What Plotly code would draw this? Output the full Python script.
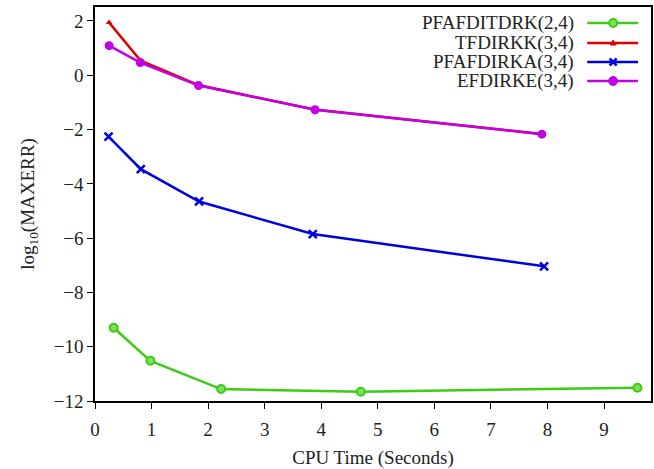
import plotly.graph_objects as go

# CPU time (s) and log10 of the maximum error for each scheme
pfafditdrk_time = [0.33, 0.98, 2.23, 4.70, 9.59]
pfafditdrk_err = [-9.30, -10.52, -11.56, -11.66, -11.51]

tfdirkk_time = [0.25, 0.80, 1.83, 3.88, 7.90]
tfdirkk_err = [1.94, 0.55, -0.36, -1.26, -2.16]

pfafdirka_time = [0.24, 0.81, 1.84, 3.85, 7.94]
pfafdirka_err = [-2.26, -3.46, -4.65, -5.85, -7.04]

efdirke_time = [0.25, 0.80, 1.83, 3.89, 7.90]
efdirke_err = [1.09, 0.47, -0.38, -1.27, -2.17]

names = ["PFAFDITDRK(2,4)", "TFDIRKK(3,4)", "PFAFDIRKA(3,4)", "EFDIRKE(3,4)"]
x_ticks = list(range(0, 10))
y_ticks = list(range(-12, 3, 2))

GREEN = "#3ccc14"
RED = "#e00000"
BLUE = "#0000e0"
MAGENTA = "#c400e4"
SERIF = "Liberation Serif, DejaVu Serif, serif"

W, H = 654, 469
ML, MR, MT, MB = 95, 1, 7, 68

fig = go.Figure()
fig.add_trace(go.Scatter(x=pfafditdrk_time, y=pfafditdrk_err, mode="lines+markers",
                         line=dict(color=GREEN, width=2.5),
                         marker=dict(symbol="circle", size=8, color="#7ee05a",
                                     line=dict(color=GREEN, width=2))))
fig.add_trace(go.Scatter(x=tfdirkk_time, y=tfdirkk_err, mode="lines+markers",
                         line=dict(color=RED, width=2.5),
                         marker=dict(symbol="triangle-up", size=6, color=RED)))
fig.add_trace(go.Scatter(x=pfafdirka_time, y=pfafdirka_err, mode="lines+markers",
                         line=dict(color=BLUE, width=2.5),
                         marker=dict(symbol="x-thin", size=8,
                                     line=dict(color=BLUE, width=2.5))))
fig.add_trace(go.Scatter(x=efdirke_time, y=efdirke_err, mode="lines+markers",
                         line=dict(color=MAGENTA, width=2.5),
                         marker=dict(symbol="circle", size=9, color=MAGENTA)))

# Legend drawn at the top right: right-aligned names, key samples to their right
pw = W - ML - MR
ph = H - MT - MB


def px_x(px):
    return (px - ML) / pw


def px_y(py):
    return (H - MB - py) / ph


shapes = []
annotations = []
rows_y = [23, 43, 62, 81]
key_colors = [GREEN, RED, BLUE, MAGENTA]
for name, py, col in zip(names, rows_y, key_colors):
    annotations.append(dict(x=px_x(578), y=px_y(py), xref="paper", yref="paper",
                            text=name, showarrow=False, xanchor="right", yanchor="middle",
                            font=dict(family=SERIF, size=19, color="#222")))
    shapes.append(dict(type="line", xref="paper", yref="paper",
                       x0=px_x(589), x1=px_x(640), y0=px_y(py), y1=px_y(py),
                       line=dict(color=col, width=2.5)))

cx = 615
# green key marker
shapes.append(dict(type="circle", xref="paper", yref="paper",
                   x0=px_x(cx - 4), x1=px_x(cx + 4), y0=px_y(rows_y[0] + 4), y1=px_y(rows_y[0] - 4),
                   fillcolor="#7ee05a", line=dict(color=GREEN, width=2)))
# red key marker
ry = rows_y[1]
shapes.append(dict(type="path", xref="paper", yref="paper",
                   path=f"M {px_x(cx - 3)} {px_y(ry + 2)} L {px_x(cx + 3)} {px_y(ry + 2)} L {px_x(cx)} {px_y(ry - 3)} Z",
                   fillcolor=RED, line=dict(color=RED, width=1)))
# blue key marker
by = rows_y[2]
for dy in (1, -1):
    shapes.append(dict(type="line", xref="paper", yref="paper",
                       x0=px_x(cx - 3.5), x1=px_x(cx + 3.5), y0=px_y(by - 3.5 * dy), y1=px_y(by + 3.5 * dy),
                       line=dict(color=BLUE, width=2.5)))
# magenta key marker
my = rows_y[3]
shapes.append(dict(type="circle", xref="paper", yref="paper",
                   x0=px_x(cx - 4.5), x1=px_x(cx + 4.5), y0=px_y(my + 4.5), y1=px_y(my - 4.5),
                   fillcolor=MAGENTA, line=dict(color=MAGENTA, width=1)))

axis_common = dict(showline=True, linecolor="black", linewidth=1.6, mirror=True,
                   ticks="outside", ticklen=6, tickwidth=1.2, tickcolor="black",
                   showgrid=False, zeroline=False,
                   tickfont=dict(family=SERIF, size=19, color="#222"))

fig.update_layout(
    width=W, height=H,
    margin=dict(l=ML, r=MR, t=MT, b=MB),
    paper_bgcolor="white", plot_bgcolor="white",
    showlegend=False,
    shapes=shapes, annotations=annotations,
    xaxis=dict(range=[0, 9.83], tickvals=x_ticks, ticklabelstandoff=4,
               title=dict(text="CPU Time (Seconds)", standoff=12,
                          font=dict(family=SERIF, size=19, color="#222")),
               **axis_common),
    yaxis=dict(range=[-12, 2.515], tickvals=y_ticks,
               title=dict(text="log<sub>10</sub>(MAXERR)", standoff=14,
                          font=dict(family=SERIF, size=19, color="#222")),
               **axis_common),
)

fig.write_html("out.html")
